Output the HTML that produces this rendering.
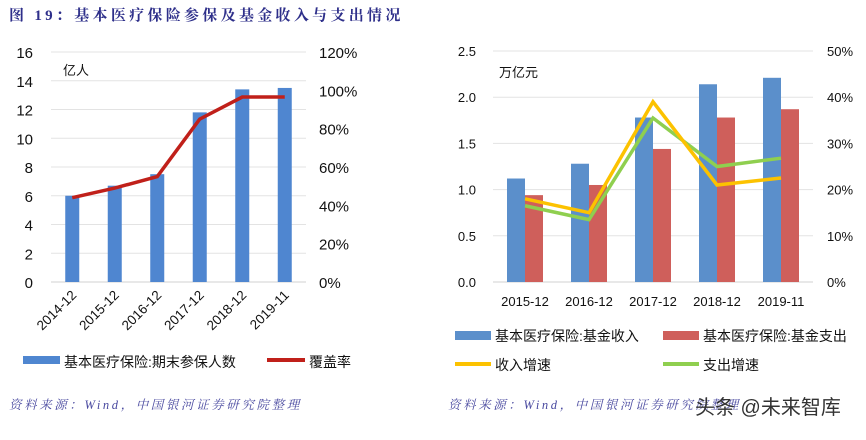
<!DOCTYPE html>
<html><head><meta charset="utf-8"><style>
body{margin:0;background:#fff;width:866px;height:435px;overflow:hidden;font-family:"Liberation Sans","Noto Sans CJK SC",sans-serif}
svg text{font-family:"Liberation Sans","Noto Sans CJK SC",sans-serif}
</style></head><body>
<svg id="s" width="866" height="435" xmlns="http://www.w3.org/2000/svg">
<text x="9" y="20" font-size="15" font-weight="bold" fill="#2e2f8a" style="font-family:'Liberation Serif','Noto Serif CJK SC',serif;letter-spacing:3.3px">图 19：基本医疗保险参保及基金收入与支出情况</text>
<g id="L"></g>
<g id="R"></g>
<text x="9" y="409" font-size="12.5" font-style="italic" fill="#4a4aa0" style="font-family:'Liberation Serif','Noto Serif CJK SC',serif;letter-spacing:2.6px">资料来源：Wind，中国银河证券研究院整理</text>
<text x="448" y="409" font-size="12.5" font-style="italic" fill="#4a4aa0" style="font-family:'Liberation Serif','Noto Serif CJK SC',serif;letter-spacing:2.6px">资料来源：Wind，中国银河证券研究院整理</text>
<text x="695" y="414" font-size="20" fill="#333">头条 @未来智库</text>
</svg>
<script>
const lCats=["2014-12","2015-12","2016-12","2017-12","2018-12","2019-11"];
const lBars=[6.0,6.7,7.5,11.8,13.4,13.5];
const lRate=[44,49,55,85,96.5,96.5];
const lTicks=[0,2,4,6,8,10,12,14,16];
const lTicksR=["0%","20%","40%","60%","80%","100%","120%"];
const rCats=["2015-12","2016-12","2017-12","2018-12","2019-11"];
const rIncome=[1.12,1.28,1.78,2.14,2.21];
const rExpense=[0.94,1.05,1.44,1.78,1.87];
const rIncG=[18,15,39,21,22.5];
const rExpG=[16.5,13.5,35.5,25,26.8];
const rTicks=["0.0","0.5","1.0","1.5","2.0","2.5"];
const rTicksR=["0%","10%","20%","30%","40%","50%"];
const NS="http://www.w3.org/2000/svg";
function mk(p,t,a,txt){const e=document.createElementNS(NS,t);for(const k in a)e.setAttribute(k,a[k]);if(txt!==undefined)e.textContent=txt;p.appendChild(e);return e;}
(function(){
const g=document.getElementById('L');
const x0=51,x1=306,yb=282,yt=52;
const y=v=>yb-(v/16)*(yb-yt), yr=v=>yb-(v/120)*(yb-yt);
const step=(x1-x0)/lCats.length, cx=i=>x0+step*(i+0.5);
lTicks.forEach(t=>{let e=mk(g,'line',{x1:x0,x2:x1,y1:y(t),y2:y(t),stroke:t?'#e3e3e3':'#d0d0d0','stroke-width':1});
e=mk(g,'text',{x:33,y:y(t)+6,'font-size':15,'text-anchor':'end',fill:'#111'},t);});
lTicksR.forEach((t,i)=>{const e=mk(g,'text',{x:319,y:yr(i*20)+6,'font-size':15,fill:'#111'},t);});
let u=mk(g,'text',{x:63,y:75,'font-size':13,fill:'#111'},'亿人');
lBars.forEach((v,i)=>{const e=mk(g,'rect',{x:cx(i)-7,y:y(v),width:14,height:yb-y(v),fill:'#4f86d0'});
const t=mk(g,'text',{x:cx(i)+5,y:yb+14,'font-size':13.5,'text-anchor':'end',fill:'#111',transform:`rotate(-45 ${cx(i)+5} ${yb+14})`},lCats[i]);});
const l=mk(g,'polyline',{points:lRate.map((v,i)=>cx(i)+','+yr(v)).join(' '),fill:'none',stroke:'#c0201a','stroke-width':3.5});
let e=mk(g,'rect',{x:23,y:356,width:37,height:8,fill:'#4f86d0'});
e=mk(g,'text',{x:64,y:367,'font-size':14,fill:'#111'},'基本医疗保险:期末参保人数');
e=mk(g,'line',{x1:267,x2:305,y1:360,y2:360,stroke:'#c0201a','stroke-width':4});
e=mk(g,'text',{x:309,y:367,'font-size':14,fill:'#111'},'覆盖率');
})();
(function(){
const g=document.getElementById('R');
const x0=493,x1=813,yb=282,yt=51;
const y=v=>yb-(v/2.5)*(yb-yt), yr=v=>yb-(v/50)*(yb-yt);
const step=(x1-x0)/rCats.length, cx=i=>x0+step*(i+0.5);
rTicks.forEach((t,i)=>{const v=i*0.5;let e=mk(g,'line',{x1:x0,x2:x1,y1:y(v),y2:y(v),stroke:i?'#e3e3e3':'#d0d0d0','stroke-width':1});
e=mk(g,'text',{x:476,y:y(v)+5,'font-size':13,'text-anchor':'end',fill:'#111'},t);});
rTicksR.forEach((t,i)=>{const e=mk(g,'text',{x:827,y:yr(i*10)+5,'font-size':13,fill:'#111'},t);});
let u=mk(g,'text',{x:499,y:77,'font-size':13,fill:'#111'},'万亿元');
rCats.forEach((c,i)=>{let e=mk(g,'rect',{x:cx(i)-18,y:y(rIncome[i]),width:18,height:yb-y(rIncome[i]),fill:'#5b8fcb'});
e=mk(g,'rect',{x:cx(i),y:y(rExpense[i]),width:18,height:yb-y(rExpense[i]),fill:'#cf5f5b'});
e=mk(g,'text',{x:cx(i),y:306,'font-size':13,'text-anchor':'middle',fill:'#111'},c);});
let l=mk(g,'polyline',{points:rExpG.map((v,i)=>cx(i)+','+yr(v)).join(' '),fill:'none',stroke:'#8fcf4f','stroke-width':3.5});
l=mk(g,'polyline',{points:rIncG.map((v,i)=>cx(i)+','+yr(v)).join(' '),fill:'none',stroke:'#fcc200','stroke-width':3.5});
const L=[[455,335,'rect','#5b8fcb','基本医疗保险:基金收入','income'],[663,335,'rect','#cf5f5b','基本医疗保险:基金支出','expense'],[455,364,'line','#fcc200','收入增速','income-growth'],[663,364,'line','#8fcf4f','支出增速','expense-growth']];
L.forEach(a=>{let e;if(a[2]=='rect')e=mk(g,'rect',{x:a[0],y:a[1]-4,width:36,height:9,fill:a[3]});else e=mk(g,'line',{x1:a[0],x2:a[0]+36,y1:a[1],y2:a[1],stroke:a[3],'stroke-width':4});

e=mk(g,'text',{x:a[0]+40,y:a[1]+6,'font-size':14,fill:'#111'},a[4]);});
})();
</script>
</body></html>
